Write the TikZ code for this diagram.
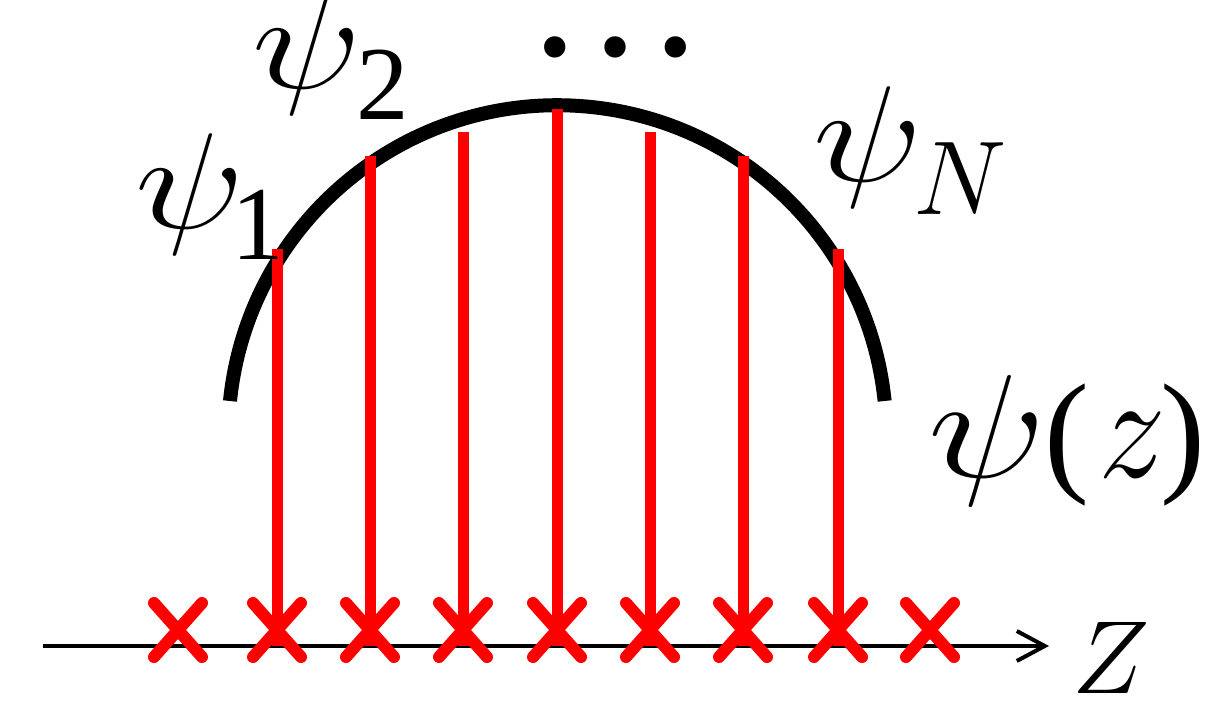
\RequirePackage{fix-cm}
\documentclass[tikz,border=0pt]{standalone}
\usepackage[no-math]{fontspec}
\newfontfamily\libserif{Liberation Serif}
\usetikzlibrary{arrows.meta}
\newcommand{\wpsi}{\scalebox{1.55}[1.3]{$\psi$}}
\begin{document}
\begin{tikzpicture}[x=1pt,y=1pt,
  curve/.style={line width=14pt},
  ray/.style={red,line width=11pt},
  cross/.style={red,line width=12pt,line cap=round},
  axis/.style={line width=4pt,-{Straight Barb[length=28pt,width=30pt,line width=4pt]}},
  lab/.style={inner sep=0pt,anchor=base west,text height=70pt,text depth=0pt,font=\fontsize{105}{105}\selectfont}]
\useasboundingbox (0,0) rectangle (1209,701);
% wave function curve
\draw[curve] (230,300) arc[start angle=174.2, end angle=5.8, radius=329];
% axis
\coordinate (ax0) at (43,55);
\coordinate (ax1) at (1049,55);
\draw[axis] (ax0) -- (ax1);
% red samples
\foreach \i/\x/\t in {1/277/249,2/370/156,3/463/132,4/557/109,5/650/132,6/743/156,7/838/249}{
  \coordinate (top\i) at (\x,701-\t);
  \coordinate (bot\i) at (\x,55);
  \draw[ray] (top\i) -- (bot\i);
}
% crosses
\foreach \x in {178,277,370,463,557,650,743,838,930}{
  \draw[cross] (\x-24,71-27) -- (\x+24,71+27);
  \draw[cross] (\x-24,71+27) -- (\x+24,71-27);
}
% labels
\node[lab] (psi1) at (135,472) {\makebox[96pt][l]{\wpsi}\raisebox{-31pt}{\libserif 1}};
\node[lab] (psi2) at (252,612) {\makebox[104pt][l]{\wpsi}\raisebox{-31pt}{\libserif 2}};
\node[lab] (psiN) at (813,519) {\makebox[100pt][l]{\wpsi}\raisebox{-33pt}{$N$}};
\node[lab,font=\fontsize{113}{113}\selectfont] (psiz) at (928,223)
  {\makebox[116pt][l]{\wpsi}\makebox[54pt][l]{\fontsize{135}{135}\selectfont\libserif(}\makebox[62pt][l]{\scalebox{1.2}[1.32]{$z$}}{\fontsize{135}{135}\selectfont\libserif)}};
\node[lab,text height=66pt,font=\fontsize{104}{104}\selectfont] (zlab) at (1072,8) {$Z$};
\node[inner sep=0pt,anchor=base,text height=22pt,text depth=0pt,font=\fontsize{180}{180}\selectfont\libserif] (dots) at (615,645) {…};
\end{tikzpicture}
\end{document}
